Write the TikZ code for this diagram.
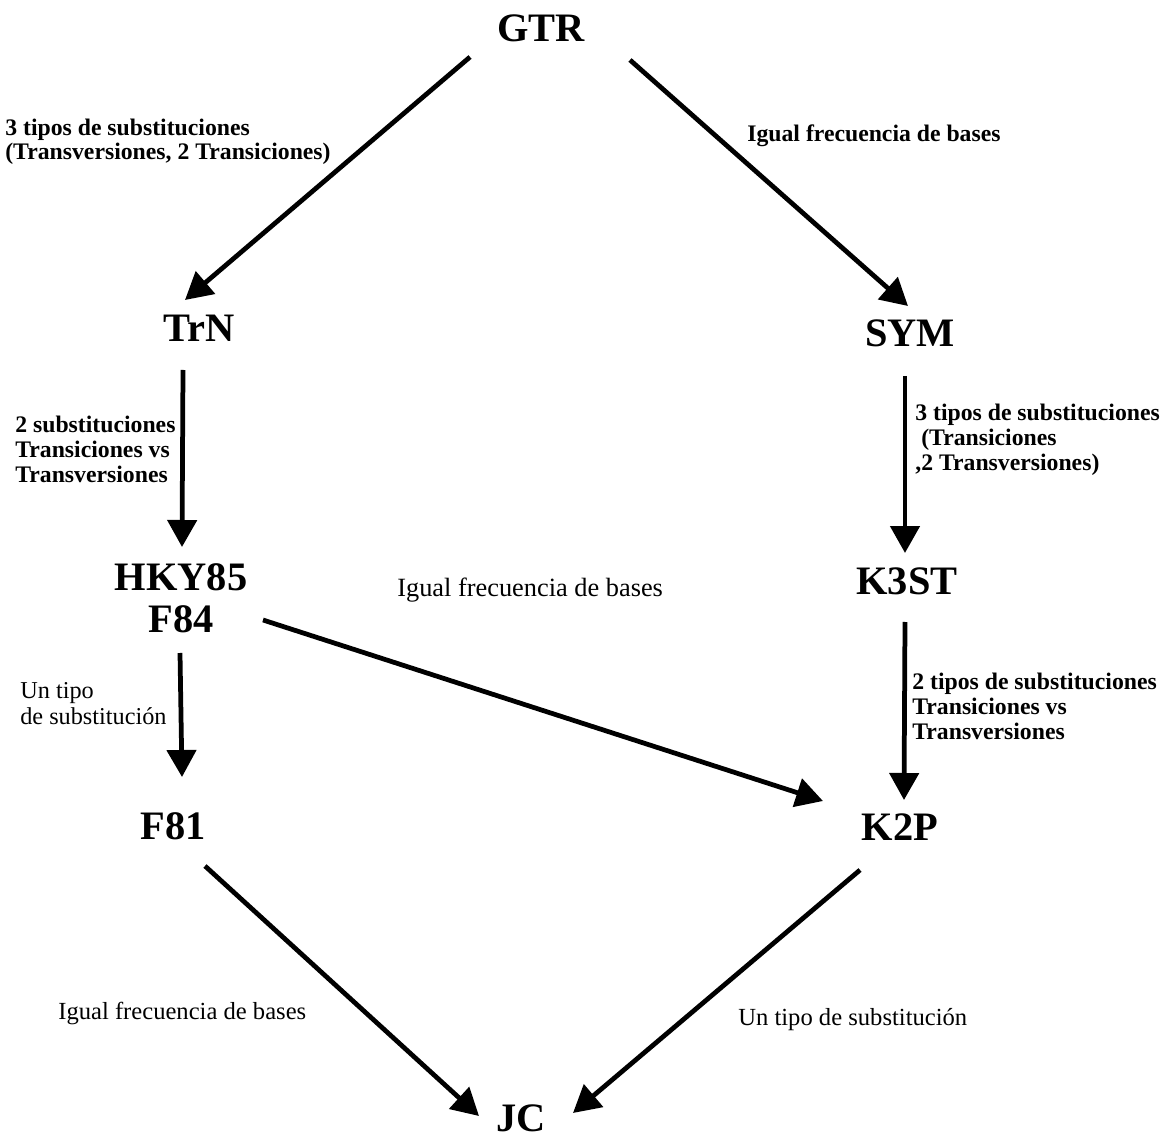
\documentclass[tikz,border=0pt]{standalone}
\usepackage{fontspec}
\setmainfont{Liberation Serif}
\usepackage{tikz}
\usetikzlibrary{arrows.meta, positioning}

\begin{document}
\begin{tikzpicture}[
    x=0.02cm, y=-0.02cm,
    % Styles for the models
    model/.style={font=\fontsize{23}{24}\selectfont\bfseries, align=center, inner sep=0pt},
    % Styles for the labels
    note/.style={font=\fontsize{13.5}{14.2}\selectfont\bfseries, align=left, inner sep=0pt, anchor=north west},
    plain_note/.style={font=\fontsize{14}{15}\selectfont, align=left, inner sep=0pt, anchor=north west},
    % Style for the arrows
    arrow/.style={-{Triangle[length=0.54cm, width=0.58cm]}, line width=0.095cm}
]
    \useasboundingbox (0,0) rectangle (1166,1141);

    % =========================================================================
    % MODELS
    % =========================================================================
    \node (gtr)  [model] at (541,28)   {GTR};
    \node (trn)  [model] at (199,328)  {TrN};
    \node (sym)  [model] at (910,333)  {SYM};
    \node (hky)  [model] at (181,598)  {HKY85\\F84};
    \node (k3st) [model] at (907,581)  {K3ST};
    \node (f81)  [model] at (173,826)  {F81};
    \node (k2p)  [model] at (900,827)  {K2P};
    \node (jc)   [model] at (521,1118) {JC};

    % =========================================================================
    % ARROWS
    % =========================================================================
    \draw [arrow] ([shift={(-71,29)}]gtr.center) -- ([shift={(-14,-28)}]trn.center);
    \draw [arrow] ([shift={(89,32)}]gtr.center) -- ([shift={(-2,-27)}]sym.center);
    \draw [arrow] ([shift={(-16,42)}]trn.center) -- ([shift={(1,-51)}]hky.center);
    \draw [arrow] ([shift={(-5,43)}]sym.center) -- ([shift={(-2,-28)}]k3st.center);
    \draw [arrow] ([shift={(82,22)}]hky.center) -- ([shift={(-77,-26)}]k2p.center);
    \draw [arrow] ([shift={(-2,41)}]k3st.center) -- ([shift={(4,-27)}]k2p.center);
    \draw [arrow] ([shift={(-1,55)}]hky.center) -- ([shift={(9,-49)}]f81.center);
    \draw [arrow] ([shift={(32,40)}]f81.center) -- ([shift={(-42,-2)}]jc.center);
    \draw [arrow] ([shift={(-40,43)}]k2p.center) -- ([shift={(52,-5)}]jc.center);

    % =========================================================================
    % LABELS
    % =========================================================================
    \node (lab_gtr_trn) [note, font=\fontsize{13.5}{11.5}\selectfont\bfseries] at (5,119)
        {3 tipos de substituciones\\(Transversiones, 2 Transiciones)};
    \node (lab_gtr_sym) [note] at (747,124) {Igual frecuencia de bases};
    \node (lab_trn_hky) [note] at (15,416) {2 substituciones\\Transiciones vs\\Transversiones};
    \node (lab_sym_k3st) [note] at (915,404) {3 tipos de substituciones\\\ (Transiciones\\,2 Transversiones)};
    \node (lab_hky_k2p) [plain_note, font=\fontsize{15}{16}\selectfont] at (397,578) {Igual frecuencia de bases};
    \node (lab_hky_f81) [plain_note, font=\fontsize{13.8}{15}\selectfont] at (20,682) {Un tipo\\de substitución};
    \node (lab_k3st_k2p) [note] at (912,673) {2 tipos de substituciones\\Transiciones vs\\Transversiones};
    \node (lab_f81_jc) [plain_note] at (58,1002) {Igual frecuencia de bases};
    \node (lab_k2p_jc) [plain_note] at (738,1008) {Un tipo de substitución};

\end{tikzpicture}
\end{document}
